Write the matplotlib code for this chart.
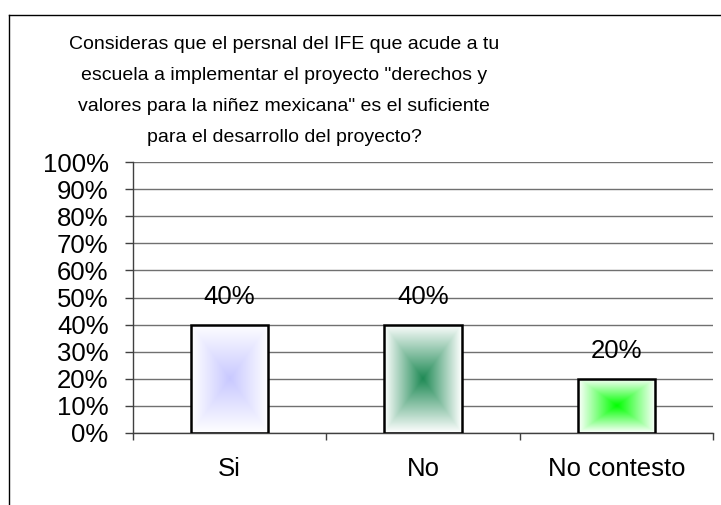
import numpy as np
import matplotlib
matplotlib.use("Agg")
import matplotlib.pyplot as plt
from matplotlib.lines import Line2D
from matplotlib.colors import to_rgb

plt.rcParams['font.family'] = ['Liberation Sans', 'DejaVu Sans']

# Data
categories = ["Si", "No", "No contesto"]
values = [40, 40, 20]
center_colors = ["#c8c8ff", "#1f8a55", "#00ff00"]
title = ('Consideras que el persnal del IFE que acude a tu\n'
         'escuela a implementar el proyecto "derechos y\n'
         'valores para la niñez mexicana" es el suficiente\n'
         'para el desarrollo del proyecto?')
yticks = list(range(0, 101, 10))


def gradient_image(color, n=200):
    # rectangular "from center" gradient: color in the middle, white at the edges
    u = np.linspace(-1, 1, n)
    xx, yy = np.meshgrid(u, u)
    t = np.maximum(np.abs(xx), np.abs(yy))
    c = np.array(to_rgb(color))
    img = c[None, None, :] * (1 - t[..., None]) + np.ones(3)[None, None, :] * t[..., None]
    return img


W, H = 721, 505
fig = plt.figure(figsize=(W / 100, H / 100), dpi=100)
ax = fig.add_axes([133 / W, 1 - 433 / H, (713 - 133) / W, (433 - 162) / H])

bar_w = 0.4
for i, (cat, val, col) in enumerate(zip(categories, values, center_colors)):
    xc = i + 0.5
    ax.imshow(gradient_image(col), extent=(xc - bar_w / 2, xc + bar_w / 2, 0, val),
              aspect='auto', zorder=2, interpolation='bilinear')
    ax.bar(xc, val, width=bar_w, facecolor='none', edgecolor='black', linewidth=1.8, zorder=3)
    ax.annotate(f"{val}%", (xc, val), xytext=(0, 15), textcoords='offset points',
                ha='center', va='baseline', fontsize=18.5, zorder=4)
    ax.text(xc, -9, cat, ha='center', va='top', fontsize=18.5)

ax.set_xlim(0, 3)
ax.set_ylim(0, 100)
ax.set_yticks(yticks)
ax.set_yticklabels([f"{v}%" for v in yticks], fontsize=18.5)
ax.set_xticks([0, 1, 2, 3])
ax.set_xticklabels([])
ax.tick_params(axis='y', direction='out', length=6, width=1, pad=11.5, color='#404040')
ax.tick_params(axis='x', direction='out', length=5, width=1, color='#404040')
ax.yaxis.grid(True, color='#707070', linewidth=1)
ax.set_axisbelow(True)
for s in ['top', 'right']:
    ax.spines[s].set_visible(False)
for s in ['left', 'bottom']:
    ax.spines[s].set_color('#404040')
    ax.spines[s].set_linewidth(1)

fig.text(284 / W, 1 - 91 / H, title, ha='center', va='center', fontsize=14, linespacing=2.1)

# outer chart border (cropped on the right and bottom)
fig.add_artist(Line2D([9 / W, 9 / W], [0, 1 - 15 / H], transform=fig.transFigure, color='black', linewidth=1))
fig.add_artist(Line2D([9 / W, 1], [1 - 15 / H, 1 - 15 / H], transform=fig.transFigure, color='black', linewidth=1))

fig.savefig("out.png", dpi=100)
